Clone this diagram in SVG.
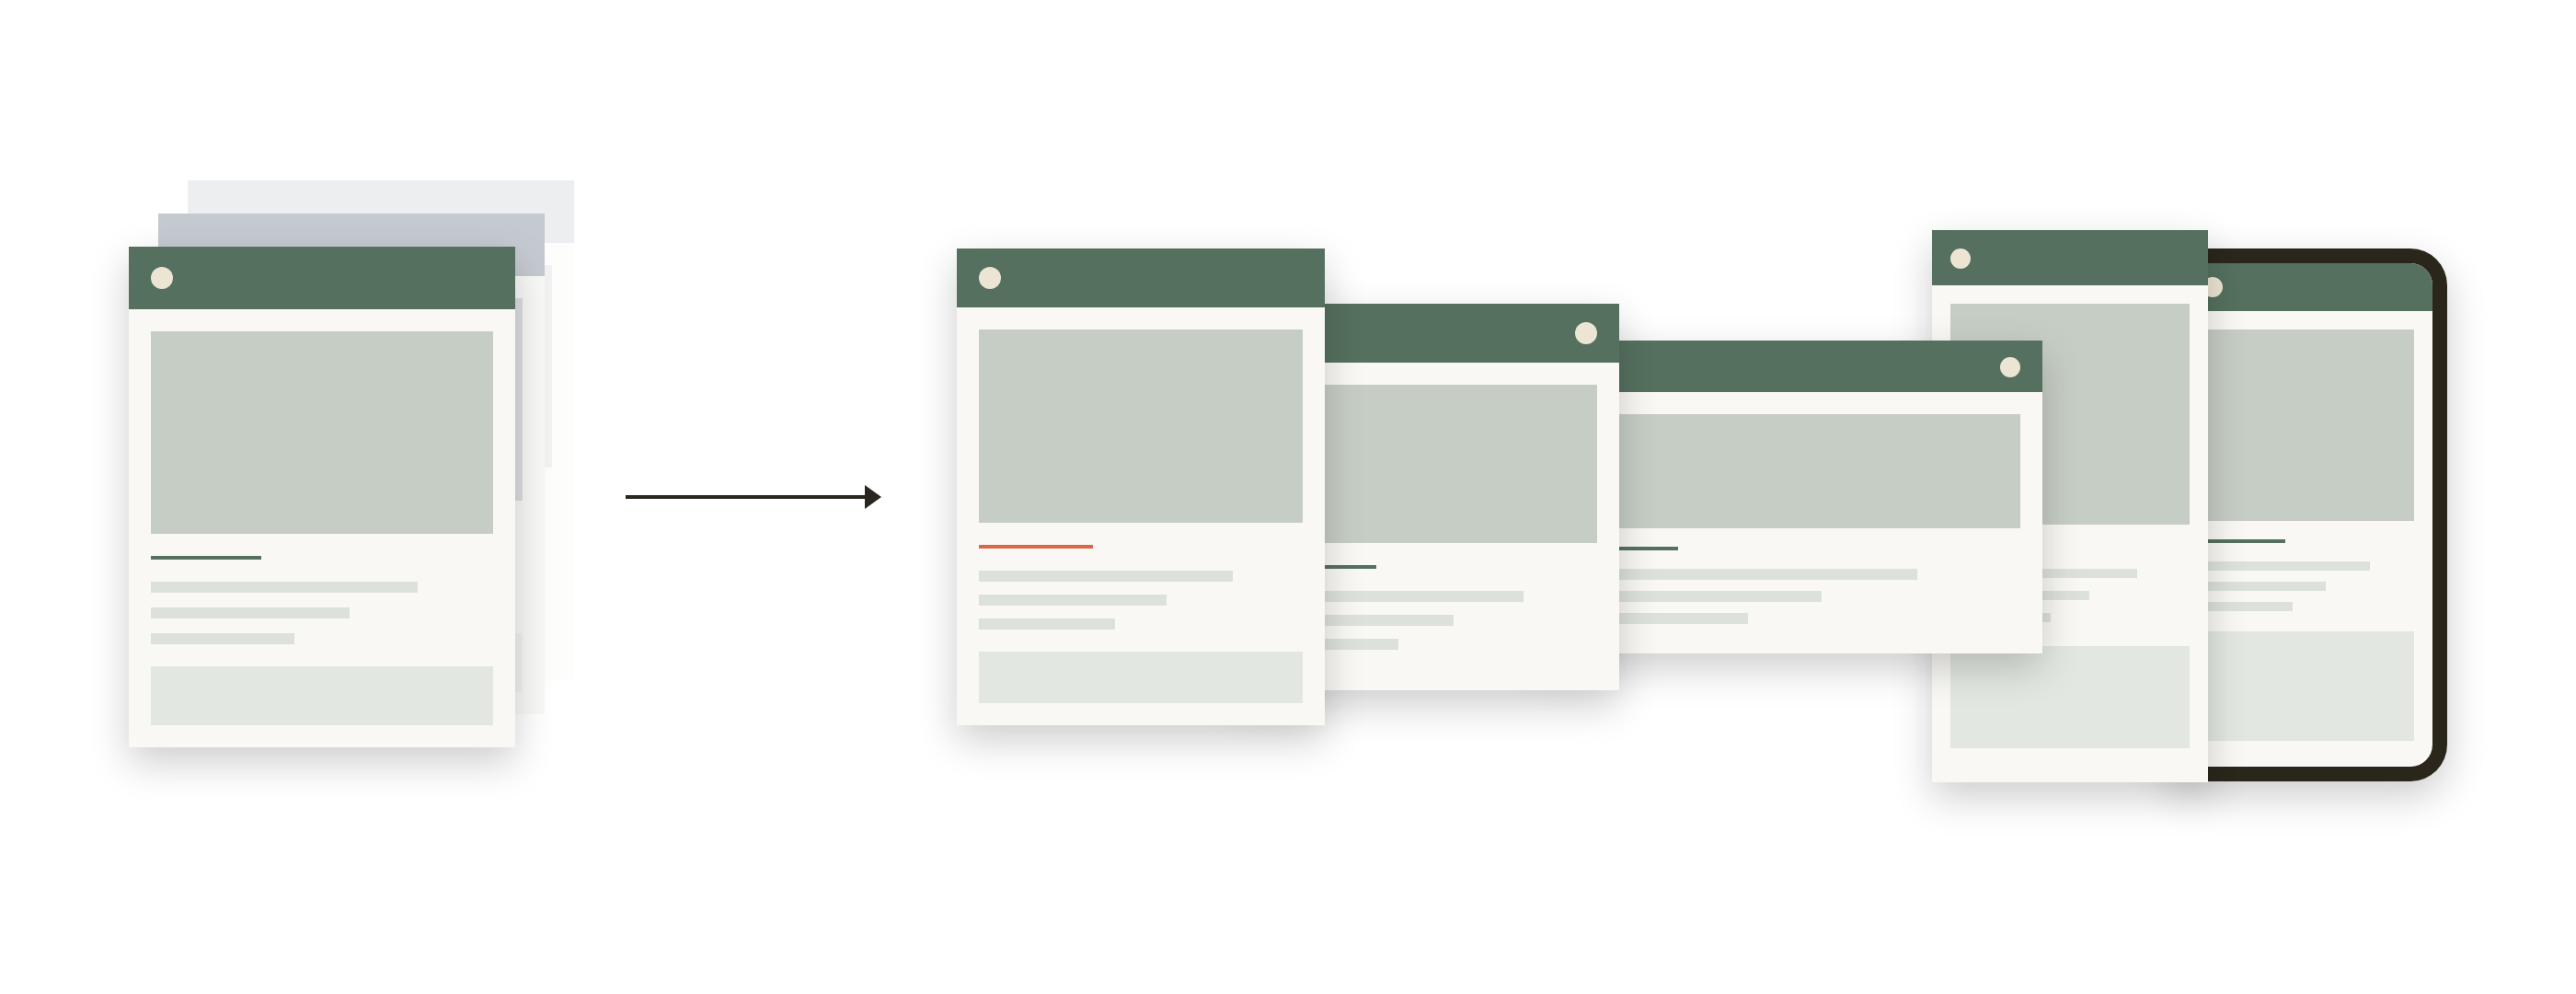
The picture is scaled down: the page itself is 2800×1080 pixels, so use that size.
<svg xmlns="http://www.w3.org/2000/svg" width="2800" height="1080" viewBox="0 0 2800 1080">
<style>
.hdr{fill:#54705f}
.body{fill:#f9f8f4}
.img{fill:#c6cdc4}
.ln{fill:#dde1db}
.box{fill:#e2e7e1}
.dot{fill:#ede5d4}
.acc{fill:#54705f}
.org{fill:#d9674a}
</style>
<defs>
<filter id="sh" x="-30%" y="-30%" width="160%" height="170%">
<feGaussianBlur in="SourceAlpha" stdDeviation="22" result="b"/>
<feOffset in="b" dx="0" dy="16" result="o"/>
<feComponentTransfer in="o" result="s"><feFuncA type="linear" slope="0.2"/></feComponentTransfer>
<feMerge><feMergeNode in="s"/><feMergeNode in="SourceGraphic"/></feMerge>
</filter>
<marker id="ah" markerUnits="userSpaceOnUse" markerWidth="18" markerHeight="26" viewBox="0 0 18 26" refX="0" refY="13" orient="auto">
<path d="M0,0 L18,13 L0,26 z" fill="#29261f"/>
</marker>
<clipPath id="scr"><rect x="2368" y="286" width="276" height="547" rx="24"/></clipPath>
</defs>
<rect width="2800" height="1080" fill="#ffffff"/>

<g id="ghost-back">
<rect x="204" y="196" width="420" height="544" fill="#fdfdfc"/>
<rect x="204" y="196" width="420" height="68" fill="#edeef0"/>
<rect x="228" y="288" width="372" height="220" fill="#f2f2f3"/>
</g>
<g id="ghost-mid">
<rect x="172" y="232" width="420" height="544" fill="#f9f9f8"/>
<rect x="172" y="232" width="420" height="68" fill="#c5cad0"/>
<rect x="196" y="324" width="372" height="220" fill="#dcdee1"/>
<rect x="196" y="688" width="372" height="64" fill="#f1f2f1"/>
</g>

<g id="source-card" filter="url(#sh)">
<rect class="body" x="140" y="268" width="420" height="544"/>
<rect class="hdr" x="140" y="268" width="420" height="68"/>
<circle class="dot" cx="176" cy="302" r="12"/>
<rect class="img" x="164" y="360" width="372" height="220"/>
<rect class="acc" x="164" y="604" width="120" height="4"/>
<rect class="ln" x="164" y="632" width="290" height="12"/>
<rect class="ln" x="164" y="660" width="216" height="12"/>
<rect class="ln" x="164" y="688" width="156" height="12"/>
<rect class="box" x="164" y="724" width="372" height="64"/>
</g>

<g id="connectors">
<line x1="680" y1="540" x2="940" y2="540" stroke="#29261f" stroke-width="4" marker-end="url(#ah)"/>
</g>

<g id="tablet" filter="url(#sh)">
<rect x="2352" y="270" width="308" height="579" rx="40" fill="#29261f"/>
<g clip-path="url(#scr)">
<rect class="body" x="2368" y="286" width="276" height="547"/>
<rect class="hdr" x="2368" y="286" width="276" height="52"/>
</g>
<circle class="dot" cx="2405" cy="312" r="11"/>
<rect class="img" x="2388" y="358" width="236" height="208"/>
<rect class="acc" x="2388" y="586" width="96" height="4"/>
<rect class="ln" x="2388" y="610" width="188" height="10"/>
<rect class="ln" x="2388" y="632" width="140" height="10"/>
<rect class="ln" x="2388" y="654" width="104" height="10"/>
<rect class="box" x="2388" y="686" width="236" height="119"/>
</g>

<g id="card-d" filter="url(#sh)">
<rect class="body" x="2100" y="250" width="300" height="600"/>
<rect class="hdr" x="2100" y="250" width="300" height="60"/>
<circle class="dot" cx="2131" cy="281" r="11"/>
<rect class="img" x="2120" y="330" width="260" height="240"/>
<rect class="acc" x="2120" y="590" width="90" height="4"/>
<rect class="ln" x="2120" y="618" width="203" height="10"/>
<rect class="ln" x="2120" y="642" width="151" height="10"/>
<rect class="ln" x="2120" y="666" width="109" height="10"/>
<rect class="box" x="2120" y="702" width="260" height="111"/>
</g>

<g id="card-c" filter="url(#sh)">
<rect class="body" x="1660" y="370" width="560" height="340"/>
<rect class="hdr" x="1660" y="370" width="560" height="56"/>
<circle class="dot" cx="2185" cy="399" r="11"/>
<rect class="img" x="1684" y="450" width="512" height="124"/>
<rect class="acc" x="1684" y="594" width="140" height="4"/>
<rect class="ln" x="1684" y="618" width="400" height="12"/>
<rect class="ln" x="1684" y="642" width="296" height="12"/>
<rect class="ln" x="1684" y="666" width="216" height="12"/>
</g>

<g id="card-b" filter="url(#sh)">
<rect class="body" x="1340" y="330" width="420" height="420"/>
<rect class="hdr" x="1340" y="330" width="420" height="64"/>
<circle class="dot" cx="1724" cy="362" r="12"/>
<rect class="img" x="1364" y="418" width="372" height="172"/>
<rect class="acc" x="1364" y="614" width="132" height="4"/>
<rect class="ln" x="1364" y="642" width="292" height="12"/>
<rect class="ln" x="1364" y="668" width="216" height="12"/>
<rect class="ln" x="1364" y="694" width="156" height="12"/>
</g>

<g id="card-a" filter="url(#sh)">
<rect class="body" x="1040" y="270" width="400" height="518"/>
<rect class="hdr" x="1040" y="270" width="400" height="64"/>
<circle class="dot" cx="1076" cy="302" r="12"/>
<rect class="img" x="1064" y="358" width="352" height="210"/>
<rect class="org" x="1064" y="592" width="124" height="4"/>
<rect class="ln" x="1064" y="620" width="276" height="12"/>
<rect class="ln" x="1064" y="646" width="204" height="12"/>
<rect class="ln" x="1064" y="672" width="148" height="12"/>
<rect class="box" x="1064" y="708" width="352" height="56"/>
</g>
</svg>
